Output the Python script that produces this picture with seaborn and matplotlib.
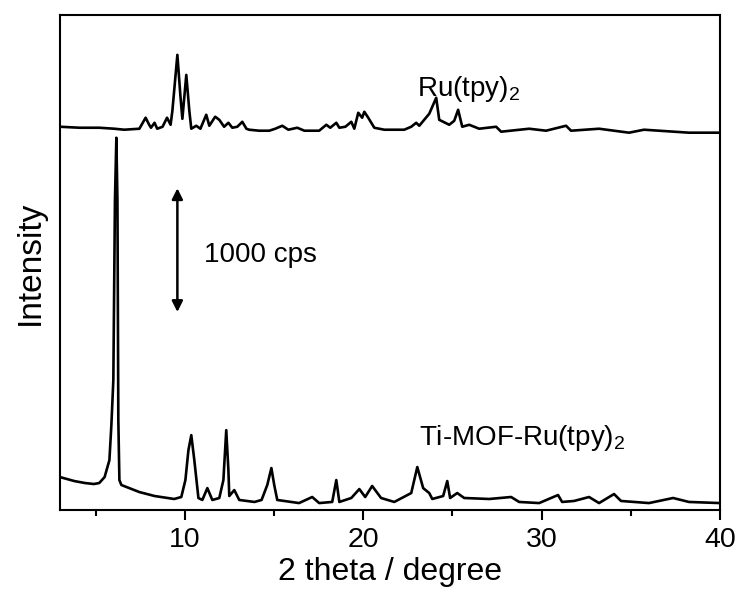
import matplotlib
matplotlib.use("Agg")
import matplotlib.pyplot as plt
import pandas as pd
import seaborn as sns

# --------------------------------------------------
# Data
# --------------------------------------------------

# Ru(tpy)2 pattern, 2 theta (degree) and counts
ru_two_theta = [
    3.0, 4.1, 5.2, 6.05, 6.6, 7.45, 7.8, 8.0, 8.1, 8.3, 8.45, 8.75, 9.0, 9.2,
    9.3, 9.4, 9.58, 9.75, 9.86, 10.08, 10.25, 10.36, 10.64, 10.87, 11.2,
    11.37, 11.7, 11.93, 12.2, 12.44, 12.66, 12.94, 13.22, 13.45, 13.6, 14.17,
    14.73, 15.07, 15.46, 15.8, 16.3, 16.7, 17.53, 17.93, 18.15, 18.49, 18.66,
    19.0, 19.33, 19.5, 19.72, 19.94, 20.06, 20.28, 20.62, 21.18, 22.3, 22.69,
    22.97, 23.14, 23.7, 24.09, 24.26, 24.82, 25.1, 25.32, 25.55, 25.94, 26.5,
    27.45, 27.73, 29.3, 30.25, 31.37, 31.65, 33.22, 34.9, 35.74, 38.26, 40.0,
]
ru_counts = [
    3097, 3089, 3089, 3081, 3073, 3081, 3170, 3113, 3089, 3129, 3081, 3097,
    3170, 3113, 3226, 3387, 3678, 3347, 3161, 3516, 3226, 3081, 3105, 3081,
    3194, 3105, 3178, 3153, 3097, 3129, 3089, 3097, 3137, 3081, 3073, 3065,
    3065, 3081, 3105, 3073, 3089, 3065, 3065, 3113, 3089, 3129, 3089, 3097,
    3137, 3081, 3210, 3170, 3218, 3170, 3089, 3073, 3073, 3097, 3129, 3105,
    3202, 3331, 3153, 3113, 3145, 3234, 3097, 3113, 3081, 3097, 3057, 3081,
    3065, 3105, 3065, 3081, 3049, 3073, 3049, 3049,
]

# Ti-MOF-Ru(tpy)2 pattern
mof_two_theta = [
    3.0, 3.8, 4.4, 4.9, 5.2, 5.5, 5.77, 5.88, 5.99, 6.08, 6.16, 6.22, 6.27,
    6.33, 6.44, 7.45, 8.3, 9.4, 9.8, 10.03, 10.2, 10.36, 10.53, 10.76, 10.98,
    11.26, 11.54, 11.93, 12.16, 12.32, 12.44, 12.49, 12.77, 13.05, 13.9, 14.3,
    14.62, 14.85, 15.01, 15.18, 16.4, 17.14, 17.53, 18.26, 18.49, 18.66, 19.33,
    19.78, 20.11, 20.5, 21.0, 21.74, 22.69, 23.03, 23.36, 23.7, 23.87, 24.48,
    24.71, 24.87, 25.27, 25.66, 27.06, 28.29, 28.74, 29.86, 30.92, 31.15,
    31.82, 32.66, 33.22, 34.06, 34.45, 36.02, 37.37, 38.26, 40.0,
]
mof_counts = [
    266, 234, 218, 210, 218, 266, 403, 686, 1048, 2500, 3008, 2500, 726,
    242, 202, 145, 113, 89, 105, 242, 484, 605, 403, 97, 81,
    177, 81, 97, 242, 645, 323, 113, 161, 81, 65, 81,
    202, 339, 202, 81, 56, 105, 56, 65, 242, 65, 97,
    169, 105, 194, 97, 65, 137, 347, 177, 137, 89, 113,
    234, 97, 137, 97, 89, 105, 65, 56, 121, 65,
    73, 105, 56, 129, 73, 56, 97, 65, 56,
]

labels = ["Ru(tpy)$_2$", "Ti-MOF-Ru(tpy)$_2$"]
scale_bar_counts = 1000

# --------------------------------------------------
# Plot
# --------------------------------------------------

sns.set_style("ticks")
plt.rcParams["font.family"] = ["Liberation Sans", "DejaVu Sans"]
plt.rcParams["mathtext.default"] = "regular"
plt.rcParams["text.color"] = "black"
plt.rcParams["axes.labelcolor"] = "black"
plt.rcParams["xtick.color"] = "black"
plt.rcParams["xtick.labelcolor"] = "black"

ru_df = pd.DataFrame({"two_theta": ru_two_theta, "counts": ru_counts})
mof_df = pd.DataFrame({"two_theta": mof_two_theta, "counts": mof_counts})

fig = plt.figure(figsize=(7.42, 5.95), dpi=100)
ax = fig.add_axes([60 / 742, 85 / 595, 660 / 742, 495 / 595])

sns.lineplot(data=ru_df, x="two_theta", y="counts", ax=ax,
             color="black", linewidth=1.9, estimator=None, sort=False)
sns.lineplot(data=mof_df, x="two_theta", y="counts", ax=ax,
             color="black", linewidth=1.9, estimator=None, sort=False)

ax.set_xlim(3, 40)
ax.set_ylim(0, 4000)
ax.set_xticks([10, 20, 30, 40])
ax.set_xticks([5, 15, 25, 35], minor=True)
ax.set_yticks([])
ax.tick_params(axis="x", which="major", direction="out", length=7,
               width=1.5, labelsize=20.5, pad=5, colors="black")
ax.tick_params(axis="x", which="minor", direction="out", length=4,
               width=1.5, colors="black")

for spine in ax.spines.values():
    spine.set_visible(True)
    spine.set_linewidth(1.5)
    spine.set_color("black")

ax.set_xlabel("2 theta / degree", fontsize=23, labelpad=3, color="black")
ax.set_ylabel("Intensity", fontsize=24, labelpad=10, color="black")

# sample labels
ax.text(23.0, 3400, labels[0], fontsize=20, va="center", ha="left",
        color="black")
ax.text(23.1, 580, labels[1], fontsize=20, va="center", ha="left",
        color="black")

# 1000 cps scale bar
ax.annotate("", xy=(9.58, 2600), xytext=(9.58, 2600 - scale_bar_counts),
            arrowprops=dict(arrowstyle="<|-|>", color="black", lw=1.8,
                            mutation_scale=16, shrinkA=0, shrinkB=0))
ax.text(11.1, 2060, f"{scale_bar_counts} cps", fontsize=20,
        va="center", ha="left", color="black")

plt.savefig("out.png", dpi=100)
plt.close()
